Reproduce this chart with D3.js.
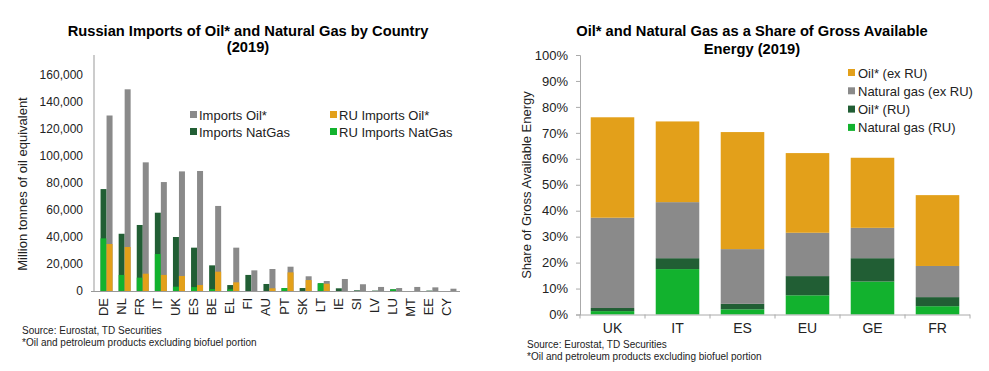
<!DOCTYPE html>
<html>
<head>
<meta charset="utf-8">
<script src="https://cdn.jsdelivr.net/npm/d3@7"></script>
<style>
  body { margin: 0; background: #fff; }
  svg { font-family: "Liberation Sans", Arial, sans-serif; }
</style>
</head>
<body>
<div id="chart"></div>
<script>
// left: Russian imports by country, right: share of gross available energy

var countries = ["DE","NL","FR","IT","UK","ES","BE","EL","FI","AU","PT","SK","LT","IE","SI","LV","LU","MT","EE","CY"];
var importsOil   = [130000,149400,95300,80700,88600,88900,63000,32100,15300,16300,18000,10900,7400,8900,5000,3000,2200,3000,2700,1700];
var ruImportsOil = [34800,32600,12800,11900,11100,4400,14300,6400,0,2000,13800,8100,5400,0,0,0,0,0,0,0];
var importsGas   = [75500,42400,48900,58000,40000,32100,19000,4400,11900,5200,2200,2200,5700,2000,500,300,1200,0,300,0];
var ruImportsGas = [39000,11900,9900,27400,3200,2900,1400,1200,0,0,2200,0,5700,0,0,0,1200,0,0,0];
var leftTicks = [0,20000,40000,60000,80000,100000,120000,140000,160000];

var shareCountries = ["UK","IT","ES","EU","GE","FR"];
var gasRU   = [1.3,17.5,2.0,7.4,12.7,3.2];
var oilRU   = [1.2,4.2,2.1,7.4,9.0,3.5];
var gasExRU = [34.8,21.6,21.1,16.7,11.7,12.0];
var oilExRU = [38.7,31.1,45.1,30.7,27.0,27.3];

var ORANGE = "#E3A01A", GRAY = "#8A8A8A", DARK = "#215E34", BRIGHT = "#12B22E";

var svg = d3.select("#chart").append("svg")
  .attr("width", 989)
  .attr("height", 371);

// ---------- left chart ----------
var x1 = d3.scaleBand().domain(countries).range([94, 456]);
var y1 = d3.scaleLinear().domain([0, 160000]).range([291, 75]);

var left = svg.append("g");

left.append("text")
  .attr("x", 248).attr("y", 36)
  .attr("text-anchor", "middle")
  .attr("font-size", "14.7px").attr("font-weight", "bold")
  .text("Russian Imports of Oil* and Natural Gas by Country");
left.append("text")
  .attr("x", 248).attr("y", 52)
  .attr("text-anchor", "middle")
  .attr("font-size", "14.7px").attr("font-weight", "bold")
  .text("(2019)");

var leftAxis = d3.axisLeft(y1).tickValues(leftTicks).tickSize(0).tickPadding(11)
  .tickFormat(d3.format(","));
var ly = left.append("g").attr("transform", "translate(94,0)").call(leftAxis);
ly.select(".domain").remove();
ly.selectAll("text").attr("font-size", "12px").attr("fill", "#222").attr("font-family", "Liberation Sans, Arial, sans-serif");
left.append("line").attr("x1", 94).attr("x2", 94).attr("y1", 55).attr("y2", 291)
  .attr("stroke", "#999").attr("stroke-width", 1);

var gw = 6;
function barX(d) { return x1(d) + x1.bandwidth() / 2 - 2.5; }

left.selectAll(".gasTot").data(countries).enter().append("rect")
  .attr("x", d => barX(d)).attr("width", gw)
  .attr("y", (d, i) => y1(importsGas[i])).attr("height", (d, i) => y1(0) - y1(importsGas[i]))
  .attr("fill", DARK);
left.selectAll(".gasRu").data(countries).enter().append("rect")
  .attr("x", d => barX(d)).attr("width", gw)
  .attr("y", (d, i) => y1(ruImportsGas[i])).attr("height", (d, i) => y1(0) - y1(ruImportsGas[i]))
  .attr("fill", BRIGHT);
left.selectAll(".oilTot").data(countries).enter().append("rect")
  .attr("x", d => barX(d) + gw).attr("width", gw)
  .attr("y", (d, i) => y1(importsOil[i])).attr("height", (d, i) => y1(0) - y1(importsOil[i]))
  .attr("fill", GRAY);
left.selectAll(".oilRu").data(countries).enter().append("rect")
  .attr("x", d => barX(d) + gw).attr("width", gw)
  .attr("y", (d, i) => y1(ruImportsOil[i])).attr("height", (d, i) => y1(0) - y1(ruImportsOil[i]))
  .attr("fill", ORANGE);

left.append("line").attr("x1", 91).attr("x2", 460).attr("y1", 291.5).attr("y2", 291.5)
  .attr("stroke", "#999").attr("stroke-width", 1);

left.selectAll(".xl").data(countries).enter().append("text")
  .attr("transform", d => `translate(${x1(d) + x1.bandwidth() / 2 + 4.5}, 298) rotate(-90)`)
  .attr("text-anchor", "end")
  .attr("font-size", "13px").attr("fill", "#222")
  .text(d => d);

left.append("text")
  .attr("transform", "translate(27, 184) rotate(-90)")
  .attr("text-anchor", "middle")
  .attr("font-size", "13px").attr("fill", "#222")
  .text("Million tonnes of oil equivalent");

var leftLegend = [
  { name: "Imports Oil*", color: GRAY, x: 190, y: 115 },
  { name: "Imports NatGas", color: DARK, x: 190, y: 132 },
  { name: "RU Imports Oil*", color: ORANGE, x: 330, y: 115 },
  { name: "RU Imports NatGas", color: BRIGHT, x: 330, y: 132 }
];
var lg = left.selectAll(".lg").data(leftLegend).enter().append("g");
lg.append("rect").attr("x", d => d.x).attr("y", d => d.y - 4).attr("width", 7).attr("height", 7).attr("fill", d => d.color);
lg.append("text").attr("x", d => d.x + 9).attr("y", d => d.y + 5)
  .attr("font-size", "13px").attr("fill", "#222").text(d => d.name);

left.append("text").attr("x", 22).attr("y", 334).attr("font-size", "10px").attr("fill", "#222")
  .text("Source: Eurostat, TD Securities");
left.append("text").attr("x", 22).attr("y", 346).attr("font-size", "10px").attr("fill", "#222")
  .text("*Oil and petroleum products excluding biofuel portion");

// ---------- right chart ----------
var x2 = d3.scaleBand().domain(shareCountries).range([580, 970]).paddingInner(0.33).paddingOuter(0.165);
var y2 = d3.scaleLinear().domain([0, 100]).range([314.5, 55]);

var right = svg.append("g");

right.append("text")
  .attr("x", 752).attr("y", 36)
  .attr("text-anchor", "middle")
  .attr("font-size", "14.7px").attr("font-weight", "bold")
  .text("Oil* and Natural Gas as a Share of Gross Available");
right.append("text")
  .attr("x", 752).attr("y", 54)
  .attr("text-anchor", "middle")
  .attr("font-size", "14.7px").attr("font-weight", "bold")
  .text("Energy (2019)");

var rightAxis = d3.axisLeft(y2).ticks(10).tickSize(4).tickPadding(8).tickFormat(d => d + "%");
var ry = right.append("g").attr("transform", "translate(580,0)").call(rightAxis);
ry.select(".domain").attr("stroke", "#aaa");
ry.selectAll(".tick line").attr("stroke", "#aaa");
ry.selectAll("text").attr("font-size", "13px").attr("fill", "#222").attr("font-family", "Liberation Sans, Arial, sans-serif");

var shareRows = shareCountries.map((c, i) => ({
  country: c, gasRU: gasRU[i], oilRU: oilRU[i], gasExRU: gasExRU[i], oilExRU: oilExRU[i]
}));
var keys = ["gasRU", "oilRU", "gasExRU", "oilExRU"];
var keyColor = { gasRU: BRIGHT, oilRU: DARK, gasExRU: GRAY, oilExRU: ORANGE };
var stacked = d3.stack().keys(keys)(shareRows);

right.selectAll(".layer").data(stacked).enter().append("g")
  .attr("fill", d => keyColor[d.key])
  .selectAll("rect").data(d => d).enter().append("rect")
  .attr("x", d => x2(d.data.country))
  .attr("width", x2.bandwidth())
  .attr("y", d => y2(d[1]))
  .attr("height", d => y2(d[0]) - y2(d[1]));

var bottomAxis = d3.axisBottom(x2).tickSize(0).tickPadding(9);
var rx = right.append("g").attr("transform", "translate(0,314.5)").call(bottomAxis);
rx.select(".domain").attr("stroke", "#aaa").attr("d", "M580,0.5H970");
rx.selectAll("text").attr("font-size", "14px").attr("fill", "#222").attr("font-family", "Liberation Sans, Arial, sans-serif");
// small category boundary ticks
right.selectAll(".bt").data(d3.range(7)).enter().append("line")
  .attr("x1", d => 580 + d * 65).attr("x2", d => 580 + d * 65)
  .attr("y1", 314.5).attr("y2", 318.5)
  .attr("stroke", "#aaa");

right.append("text")
  .attr("transform", "translate(531, 185) rotate(-90)")
  .attr("text-anchor", "middle")
  .attr("font-size", "13px").attr("fill", "#222")
  .text("Share of Gross Available Energy");

var rightLegend = [
  { name: "Oil* (ex RU)", color: ORANGE },
  { name: "Natural gas (ex RU)", color: GRAY },
  { name: "Oil* (RU)", color: DARK },
  { name: "Natural gas (RU)", color: BRIGHT }
];
var rg = right.selectAll(".rg").data(rightLegend).enter().append("g")
  .attr("transform", (d, i) => `translate(848, ${72.5 + i * 18.3})`);
rg.append("rect").attr("x", 0).attr("y", -3.5).attr("width", 7).attr("height", 7).attr("fill", d => d.color);
rg.append("text").attr("x", 10).attr("y", 5).attr("font-size", "13px").attr("fill", "#222").text(d => d.name);

right.append("text").attr("x", 527).attr("y", 348).attr("font-size", "10px").attr("fill", "#222")
  .text("Source: Eurostat, TD Securities");
right.append("text").attr("x", 527).attr("y", 360).attr("font-size", "10px").attr("fill", "#222")
  .text("*Oil and petroleum products excluding biofuel portion");
</script>
</body>
</html>
